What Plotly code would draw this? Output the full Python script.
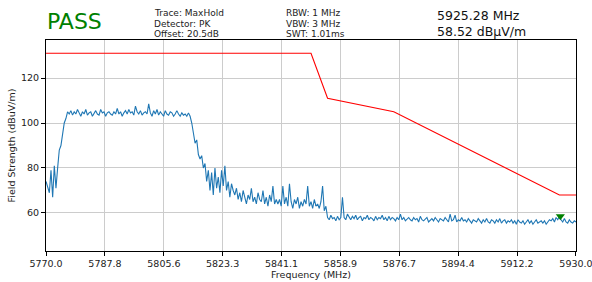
import numpy as np
import plotly.graph_objects as go

# Sweep: 5770 - 5930 MHz, 0.5 MHz step (321 points)
freq_start = 5770.0
freq_stop = 5930.0
field_strength = [
    74, 71, 69, 79, 67, 81, 71, 80, 88, 90, 96, 100, 102, 105, 104, 105.5, 103.5, 105, 104, 106,
    104.5, 103, 105, 104, 106, 103.5, 104.5, 105, 103, 104, 105.5, 104, 103.5, 106, 104.5, 105, 103, 104.5, 105, 104,
    103.5, 105, 104, 106.5, 104, 105, 103, 104.5, 105.5, 104, 106, 104.5, 105, 103.5, 107.5, 105, 104, 105.5, 103.5, 104.5,
    105, 104, 108.5, 104.5, 103, 105.5, 104, 106, 103.5, 105, 104, 103, 105.5, 104, 103.5, 105, 104.5, 103, 104, 105.5,
    104, 103, 104.5, 103.5, 104, 103, 104.5, 103, 100, 95, 91, 92.5, 86, 84, 85.5, 80, 82, 74, 79, 70,
    78, 68, 80, 71, 76, 69, 79, 72, 81, 70, 74, 67, 73, 70, 68, 71, 66, 69, 65, 70,
    67, 64, 68, 66, 71, 65, 67, 64, 69, 66, 65, 70, 64, 67, 63, 68, 65, 72, 64, 66,
    64, 66, 63, 72, 64, 67, 63, 73, 65, 62, 66, 64, 67, 62, 65, 63, 66, 64, 72, 63,
    65, 62, 66, 63, 64, 62, 65, 72, 61, 63, 58, 57, 59, 57.5, 58, 56.5, 58.5, 57, 58, 67,
    58, 57, 59.5, 58, 57, 58.5, 57.5, 59, 57, 58, 58.5, 56.5, 58, 57.5, 59, 57, 58, 57.5, 56.5, 58.5,
    57, 58, 57.5, 59, 57, 58, 56.5, 58.5, 57, 58, 57.5, 56.5, 58, 57, 59.5, 57, 58, 56.5, 57.5, 58,
    57, 56.5, 58, 57, 57.5, 56, 58.5, 57, 56.5, 57.5, 58, 56, 57, 57.5, 56.5, 58, 57, 56, 57.5, 57,
    56.5, 58, 57, 56, 59.5, 56.5, 57, 59, 56, 57, 56.5, 58, 56.5, 57, 56, 57.5, 56.5, 55.5, 57, 56.5,
    56, 57.5, 56.5, 55.5, 57, 56, 57.5, 56, 55.5, 57, 56.5, 55.5, 57, 56, 57.5, 55.5, 56.5, 57, 55.5, 56.5,
    56, 57, 55.5, 56.5, 55, 57, 56, 55.5, 56.5, 55, 56, 57, 55.5, 56.5, 55, 56, 57, 55.5, 56, 56.5,
    55.5, 56.5, 55, 56, 57, 56.5, 57.5, 56, 58, 57, 58.5, 57, 56, 57.5, 56, 55.5, 57, 56, 55.5, 56.5,
    56,
]
freqs = np.linspace(freq_start, freq_stop, len(field_strength))

# Limit mask
limit_freq = [5770, 5850, 5855, 5875, 5925, 5930]
limit_level = [131, 131, 111, 105, 68, 68]

# Marker
marker_freq = [5925.28]
marker_level = [58.52]

tick_vals = [5770.0, 5787.8, 5805.6, 5823.3, 5841.1, 5858.9, 5876.7, 5894.4, 5912.2, 5930.0]
tick_text = ["5770.0", "5787.8", "5805.6", "5823.3", "5841.1", "5858.9", "5876.7", "5894.4", "5912.2", "5930.0"]
y_ticks = [60, 80, 100, 120]

FONT = "DejaVu Sans"

fig = go.Figure()
fig.add_trace(go.Scatter(x=freqs, y=field_strength, mode="lines",
                         line=dict(color="#1f77b4", width=1.1), showlegend=False, hoverinfo="skip"))
fig.add_trace(go.Scatter(x=limit_freq, y=limit_level, mode="lines",
                         line=dict(color="#ff0000", width=1.1), showlegend=False, hoverinfo="skip"))
fig.add_trace(go.Scatter(x=marker_freq, y=marker_level, mode="markers",
                         marker=dict(symbol="triangle-down", color="#008000", size=8),
                         showlegend=False, hoverinfo="skip"))

axis_common = dict(showline=True, linecolor="black", linewidth=1, mirror=True,
                   ticks="outside", ticklen=4, tickcolor="black", automargin=False,
                   showgrid=True, gridcolor="#cccccc", gridwidth=1, zeroline=False,
                   ticklabeloverflow="allow",
                   tickfont=dict(family=FONT, size=9.5, color="#222"))

fig.update_layout(
    width=592, height=282,
    margin=dict(l=46, r=16, t=40, b=31),
    paper_bgcolor="white", plot_bgcolor="white",
    xaxis=dict(range=[freq_start - 0.01, freq_stop + 0.01], tickvals=tick_vals, ticktext=tick_text,
               title=dict(text="Frequency (MHz)", font=dict(family=FONT, size=9.5, color="#222"), standoff=0),
               **axis_common),
    yaxis=dict(range=[43.1, 136.9], tickvals=y_ticks,
               title=dict(text="Field Strength (dBuV/m)", font=dict(family=FONT, size=9.5, color="#222"), standoff=3),
               **axis_common),
)

annots = [
    dict(text="PASS", x=45, y=21, size=22, color="#008000"),
    dict(text="Trace: MaxHold", x=152, y=13, size=9, color="#222"),
    dict(text="Detector: PK", x=152, y=23.5, size=9, color="#222"),
    dict(text="Offset: 20.5dB", x=152, y=34, size=9, color="#222"),
    dict(text="RBW: 1 MHz", x=284, y=13, size=9, color="#222"),
    dict(text="VBW: 3 MHz", x=284, y=23.5, size=9, color="#222"),
    dict(text="SWT: 1.01ms", x=284, y=34, size=9, color="#222"),
    dict(text="5925.28 MHz", x=435, y=15.5, size=12.5, color="#111"),
    dict(text="58.52 dBµV/m", x=435, y=31.5, size=12.5, color="#111"),
]
for a in annots:
    fig.add_annotation(text=a["text"], xref="paper", yref="paper",
                       x=(a["x"] - 46) / (576 - 46), y=(251 - a["y"]) / (251 - 40),
                       xanchor="left", yanchor="middle", showarrow=False,
                       font=dict(family=FONT, size=a["size"], color=a["color"]))

fig.write_html("out.html", config={"displayModeBar": False},
               post_script="document.body.style.margin='0';document.body.style.padding='0';")
